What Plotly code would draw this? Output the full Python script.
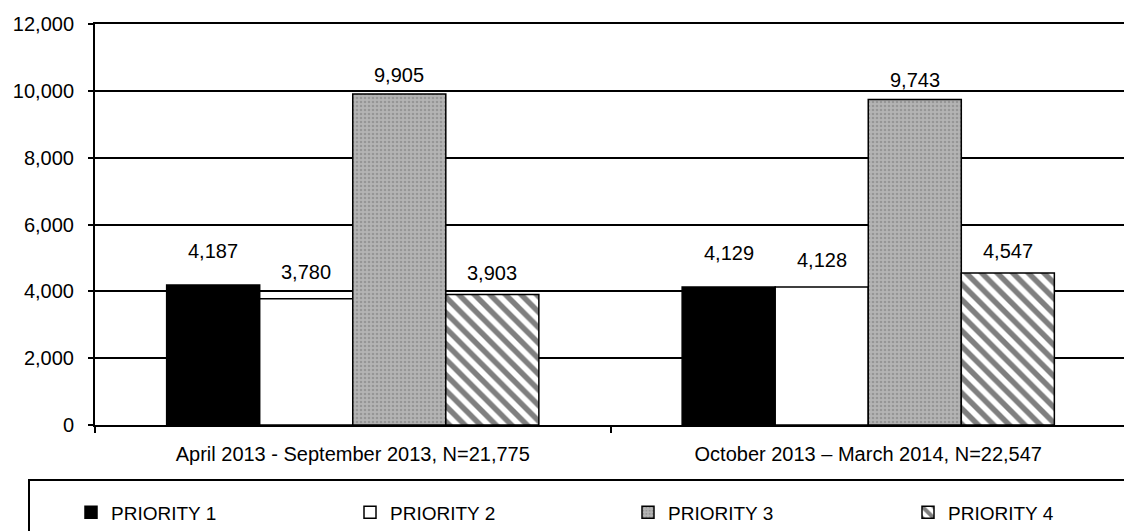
import plotly.graph_objects as go

categories = ["April 2013 - September 2013, N=21,775", "October 2013 \u2013 March 2014, N=22,547"]
series_names = ["PRIORITY 1", "PRIORITY 2", "PRIORITY 3", "PRIORITY 4"]
p1 = [4187, 4129]
p2 = [3780, 4128]
p3 = [9905, 9743]
p4 = [3903, 4547]
y_ticks = [0, 2000, 4000, 6000, 8000, 10000, 12000]

series_values = [p1, p2, p3, p4]

W, H = 1132, 531
ML, MR, MT, MB = 87, 14, 16, 114
BARGAP = 0.278
FONT = "Liberation Sans, Arial, sans-serif"

styles = [
    dict(color="#000000"),
    dict(color="#ffffff"),
    dict(color="#ababab", pattern=dict(shape=".", fgcolor="#777777", bgcolor="#b4b4b4", size=4, solidity=0.35)),
    dict(color="#ffffff", pattern=dict(shape="\\", fgcolor="#000000", bgcolor="#ffffff", size=11, solidity=0.5)),
]

plot_w = W - ML - MR
plot_h = H - MT - MB
legend_ids = ["legend", "legend2", "legend3", "legend4"]
legend_px = [63, 342, 620, 900]

fig = go.Figure()
for name, vals, st, lid in zip(series_names, series_values, styles, legend_ids):
    fig.add_trace(go.Bar(
        x=categories, y=vals, name=name, legend=lid,
        marker=dict(line=dict(color="#000000", width=1.5), **st),
        hoverinfo="skip",
    ))

# data labels as annotations centred above each bar
cat_w = plot_w / len(categories)
bar_w = cat_w * (1 - BARGAP) / len(series_names)
label_lift = [34, 27, 19, 22]
for i, vals in enumerate(series_values):
    for c, v in zip(categories, vals):
        fig.add_annotation(
            x=c, y=v, text=f"{v:,}", showarrow=False,
            xshift=(i - 1.5) * bar_w, yshift=label_lift[i],
            yanchor="middle", font=dict(family=FONT, size=20, color="#000000"),
        )

# legend frame
fig.add_shape(type="rect", xref="paper", yref="paper",
              x0=(21 - ML) / plot_w, x1=1.05,
              y0=-0.35, y1=-(472 - (H - MB)) / plot_h,
              line=dict(color="#000000", width=2), fillcolor="rgba(0,0,0,0)")

legend_common = dict(orientation="h", xanchor="left", y=-0.218, yanchor="middle",
                     font=dict(family=FONT, size=19, color="#000000"),
                     bgcolor="rgba(0,0,0,0)")
legends = {}
for lid, px in zip(legend_ids, legend_px):
    legends[lid] = dict(x=(px - ML) / plot_w, **legend_common)

fig.update_layout(
    width=W, height=H,
    margin=dict(l=ML, r=MR, t=MT, b=MB, autoexpand=False),
    paper_bgcolor="#ffffff", plot_bgcolor="#ffffff",
    barmode="group", bargap=BARGAP, bargroupgap=0,
    font=dict(family=FONT, size=20, color="#000000"),
    showlegend=True,
    xaxis=dict(showline=True, linecolor="#000000", linewidth=2, mirror=True, automargin=False,
               ticks="outside", tickson="boundaries", ticklen=6, tickcolor="#000000", tickwidth=2,
               ticklabelstandoff=10, showgrid=False,
               tickfont=dict(family=FONT, size=20, color="#000000")),
    yaxis=dict(range=[0, 12000], tickvals=y_ticks, ticktext=[f"{t:,}" for t in y_ticks],
               showline=True, linecolor="#000000", linewidth=2, mirror=True, automargin=False,
               ticks="outside", ticklen=5, tickcolor="#000000", tickwidth=2,
               showgrid=True, gridcolor="#000000", gridwidth=1.5, zeroline=False,
               ticklabelstandoff=10,
               tickfont=dict(family=FONT, size=20, color="#000000")),
    **legends,
)

fig.write_html("out.html")
